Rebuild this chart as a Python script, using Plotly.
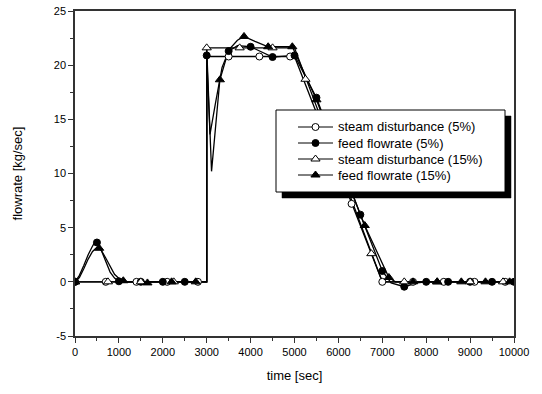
import plotly.graph_objects as go

# ---------------- data ----------------
# steam disturbance (5%)  - open circles
s5_line_t = [0, 3000, 3000, 5000, 7000, 10000]
s5_line_y = [0, 0, 20.8, 20.8, 0, 0]
s5_mark_t = [0, 700, 1400, 2100, 2800, 3500, 4200, 4900, 5600, 6300, 7000, 7700, 8400, 9100, 9800]
s5_mark_y = [0, 0, 0, 0, 0, 20.8, 20.8, 20.8, 14.5, 7.2, 0, 0, 0, 0, 0]

# feed flowrate (5%) - filled circles
f5_line_t = [0, 100, 200, 300, 400, 450, 500, 550, 600, 700, 800, 900, 1000, 1100, 3000,
             3000, 3075, 3200, 3350, 3500, 3700, 4000, 4250, 4500, 5000, 5500, 6000, 6500,
             7000, 7200, 7500, 7800, 8000, 10000]
f5_line_y = [0, 0.6, 1.5, 2.5, 3.3, 3.65, 3.63, 3.4, 2.9, 1.8, 0.9, 0.35, 0.05, 0, 0,
             20.9, 13.6, 16.5, 19.8, 21.3, 21.8, 21.7, 21.2, 20.75, 20.9, 17.0, 11.6, 6.2,
             1.0, -0.1, -0.45, -0.1, 0, 0]
f5_mark_t = [0, 500, 1000, 1500, 2000, 2500, 3000, 3500, 4000, 4500, 5000, 5500, 6000, 6500,
             7000, 7500, 8000, 8500, 9000, 9500, 10000]
f5_mark_y = [0, 3.63, 0.05, 0, 0, 0, 20.9, 21.3, 21.7, 20.75, 20.9, 17.0, 11.6, 6.2,
             1.0, -0.45, 0, 0, 0, 0, 0]

# steam disturbance (15%) - open triangles
s15_line_t = [0, 3000, 3000, 5000, 7000, 10000]
s15_line_y = [0, 0, 21.6, 21.6, 0, 0]
s15_mark_t = [0, 750, 1500, 2250, 3000, 3750, 4500, 5250, 6000, 6750, 7500, 8250, 9000, 9750]
s15_mark_y = [0, 0, 0, 0, 21.6, 21.6, 21.6, 18.7, 10.8, 2.6, 0, 0, 0, 0]

# feed flowrate (15%) - filled triangles
f15_line_t = [0, 100, 200, 300, 400, 500, 550, 600, 700, 800, 900, 1000, 1100, 1200, 3000,
              3000, 3110, 3300, 3500, 3700, 3850, 4100, 4400, 4950, 5500, 6050, 6600, 7150,
              7300, 10000]
f15_line_y = [0, 0.4, 1.2, 2.1, 2.8, 3.2, 3.1, 2.9, 2.2, 1.4, 0.7, 0.3, 0.1, 0, 0,
              21.6, 10.2, 18.65, 21.4, 22.3, 22.65, 22.2, 21.7, 21.7, 16.8, 10.9, 5.2, 0.4,
              0, 0]
f15_mark_t = [0, 550, 1100, 1650, 2200, 2750, 3300, 3850, 4400, 4950, 5500, 6050, 6600, 7150,
              7700, 8250, 8800, 9350, 9900]
f15_mark_y = [0, 3.1, 0.1, -0.1, 0, 0, 18.65, 22.65, 21.7, 21.7, 16.8, 10.9, 5.2, 0.4,
              0, 0, 0, 0, 0]

names = ["steam disturbance (5%)", "feed flowrate (5%)",
         "steam disturbance (15%)", "feed flowrate (15%)"]

x_tickvals = [0, 1000, 2000, 3000, 4000, 5000, 6000, 7000, 8000, 9000, 10000]
x_ticktext = ["0", "1000", "2000", "3000", "4000", "5000", "6000", "7000", "8000", "9000", "10000"]
y_tickvals = [-5, 0, 5, 10, 15, 20, 25]
y_ticktext = ["-5", "0", "5", "10", "15", "20", "25"]

series = [
    (s5_line_t, s5_line_y, s5_mark_t, s5_mark_y, "circle", "white", 7),
    (f5_line_t, f5_line_y, f5_mark_t, f5_mark_y, "circle", "black", 7),
    (s15_line_t, s15_line_y, s15_mark_t, s15_mark_y, "triangle-up", "white", 8),
    (f15_line_t, f15_line_y, f15_mark_t, f15_mark_y, "triangle-up", "black", 8),
]

L, R, T, B = 75, 28, 11, 58
W, H = 542, 394
pw, ph = W - L - R, H - T - B


def px2x(px):
    return (px - L) / pw


def py2y(py):
    return (H - B - py) / ph


fig = go.Figure()
for lt, ly, mt, my, sym, fill, sz in series:
    fig.add_trace(go.Scatter(x=lt, y=ly, mode="lines", line=dict(color="black", width=1.3),
                             showlegend=False, hoverinfo="skip"))
for (lt, ly, mt, my, sym, fill, sz), nm in zip(series, names):
    fig.add_trace(go.Scatter(x=mt, y=my, mode="markers", name=nm,
                             marker=dict(symbol=sym, color=fill, size=sz,
                                         line=dict(color="black", width=1)),
                             showlegend=False))


# ---- manual legend box with drop shadow, on an overlay axis in plot fractions ----
def rect(x0, y0, x1, y1):
    a, b, c, d = px2x(x0), px2x(x1), py2y(y0), py2y(y1)
    return [a, b, b, a, a], [c, c, d, d, c]


sx, sy = rect(282, 116, 511, 198)
fig.add_trace(go.Scatter(x=sx, y=sy, mode="lines", fill="toself", fillcolor="black",
                         line=dict(color="black", width=0.5), xaxis="x2", yaxis="y2",
                         showlegend=False, hoverinfo="skip"))
bx, by = rect(276, 110, 505, 192)
fig.add_trace(go.Scatter(x=bx, y=by, mode="lines", fill="toself", fillcolor="white",
                         line=dict(color="black", width=1), xaxis="x2", yaxis="y2",
                         showlegend=False, hoverinfo="skip"))

leg_rows_px = [127, 143, 159, 175]
annotations = []
for (lt, ly, mt, my, sym, fill, sz), nm, rpx in zip(series, names, leg_rows_px):
    yy = py2y(rpx)
    fig.add_trace(go.Scatter(x=[px2x(298), px2x(333)], y=[yy, yy], mode="lines",
                             line=dict(color="black", width=1), xaxis="x2", yaxis="y2",
                             showlegend=False, hoverinfo="skip"))
    fig.add_trace(go.Scatter(x=[px2x(315.5)], y=[yy], mode="markers",
                             marker=dict(symbol=sym, color=fill, size=sz,
                                         line=dict(color="black", width=1)),
                             xaxis="x2", yaxis="y2", showlegend=False, hoverinfo="skip"))
    annotations.append(dict(x=px2x(336), y=yy, xref="paper", yref="paper", text=nm,
                            showarrow=False, xanchor="left", yanchor="middle",
                            font=dict(family="Liberation Sans, Arial", size=13, color="black")))

axis_common = dict(showline=True, linecolor="#333", linewidth=1.5, mirror=True,
                   ticks="outside", ticklen=5, tickwidth=1.2, tickcolor="#333",
                   showgrid=False, zeroline=False, automargin=False,
                   tickfont=dict(family="Liberation Sans, Arial", size=11, color="black"))

fig.update_layout(
    width=W, height=H,
    margin=dict(l=L, r=R, t=T, b=B),
    paper_bgcolor="white", plot_bgcolor="white",
    font=dict(family="Liberation Sans, Arial", color="black"),
    annotations=annotations,
    showlegend=False,
    xaxis=dict(range=[0, 10000], tickmode="array", tickvals=x_tickvals, ticktext=x_ticktext,
               minor=dict(ticks="outside", ticklen=3, dtick=500, tick0=0, tickcolor="#333"),
               title=dict(text="time [sec]", font=dict(size=13), standoff=14),
               **axis_common),
    yaxis=dict(range=[-5, 25], tickmode="array", tickvals=y_tickvals, ticktext=y_ticktext,
               minor=dict(ticks="outside", ticklen=3, dtick=2.5, tick0=0, tickcolor="#333"),
               title=dict(text="flowrate [kg/sec]", font=dict(size=13), standoff=28),
               **axis_common),
    xaxis2=dict(range=[0, 1], overlaying="x", visible=False, fixedrange=True),
    yaxis2=dict(range=[0, 1], overlaying="y", visible=False, fixedrange=True),
)

fig.write_html("out.html")
